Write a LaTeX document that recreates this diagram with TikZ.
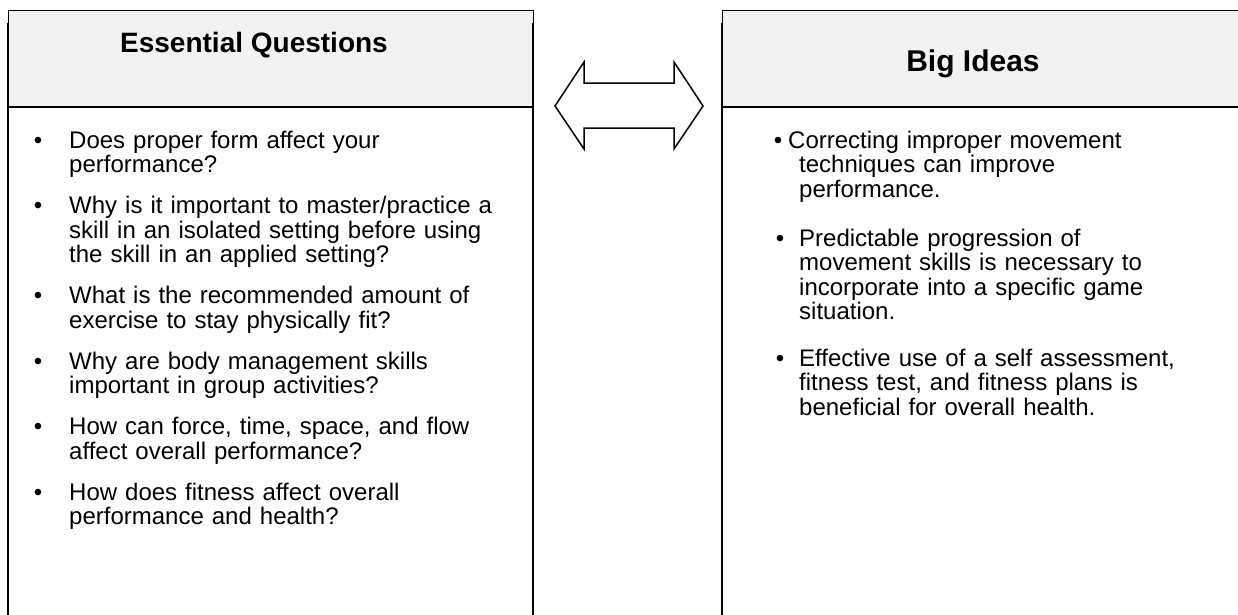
\documentclass[tikz,border=0pt]{standalone}
\usepackage{fontspec}
\setmainfont{Liberation Sans}
\definecolor{headgray}{HTML}{F2F2F2}
\begin{document}
\begin{tikzpicture}[x=1pt,y=-1pt,
  thinrule/.style={line width=0.9pt},
  thickrule/.style={line width=2pt},
  boxtitle/.style={font=\fontsize{28}{32}\selectfont\bfseries, anchor=base, inner sep=0pt},
  itemtext/.style={font=\fontsize{24}{24.5}\selectfont, align=left, text width=470pt, anchor=base west, inner sep=0pt},
  dotmark/.style={font=\fontsize{24}{24.5}\selectfont, anchor=base, inner sep=0pt},
  blockarrow/.style={draw, line width=1.5pt, fill=white, line join=miter}]
\useasboundingbox (0,0) rectangle (1238,614);
% left box
\fill[headgray] (8,10) rectangle (533,107);
\draw[thinrule] (8,10) -- (533,10);
\draw[thinrule] (8,10) -- (8,23);
\draw[thinrule] (533,10) -- (533,23);
\draw[thickrule] (8,23) -- (8,620);
\draw[thickrule] (533,23) -- (533,620);
\draw[thickrule] (7,107) -- (534,107);
% right box
\fill[headgray] (722,10) rectangle (1240,107);
\draw[thinrule] (722,10) -- (1240,10);
\draw[thinrule] (722,10) -- (722,23);
\draw[thickrule] (722,23) -- (722,620);
\draw[thickrule] (721,107) -- (1240,107);
% titles
\node[boxtitle] (eqtitle) at (254,52) {Essential Questions};
\node[boxtitle, font=\fontsize{30}{34}\selectfont\bfseries] (bititle) at (973,71) {Big Ideas};
% double arrow
\draw[blockarrow] (555,106) -- (584,62) -- (584,83) -- (674,83) -- (674,62) -- (703,106)
  -- (674,149) -- (674,128) -- (584,128) -- (584,149) -- cycle;
% left items
\node[dotmark] (lb1) at (38,148) {•};
\node[itemtext] (lq1) at (69,148) {Does proper form affect your\\performance?};
\node[dotmark] (lb2) at (38,213.5) {•};
\node[itemtext] (lq2) at (69,213.5) {Why is it important to master/practice a\\skill in an isolated setting before using\\the skill in an applied setting?};
\node[dotmark] (lb3) at (38,303.5) {•};
\node[itemtext] (lq3) at (69,303.5) {What is the recommended amount of\\exercise to stay physically fit?};
\node[dotmark] (lb4) at (38,369) {•};
\node[itemtext] (lq4) at (69,369) {Why are body management skills\\important in group activities?};
\node[dotmark] (lb5) at (38,434.5) {•};
\node[itemtext] (lq5) at (69,434.5) {How can force, time, space, and flow\\affect overall performance?};
\node[dotmark] (lb6) at (38,500) {•};
\node[itemtext] (lq6) at (69,500) {How does fitness affect overall\\performance and health?};
% right items
\node[dotmark] (rb1) at (778,148) {•};
\node[itemtext] (ri1) at (799,148) {\hspace*{-11pt}Correcting improper movement\\techniques can improve\\performance.};
\node[dotmark] (rb2) at (780,246) {•};
\node[itemtext] (ri2) at (799,246) {Predictable progression of\\movement skills is necessary to\\incorporate into a specific game\\situation.};
\node[dotmark] (rb3) at (780,366) {•};
\node[itemtext] (ri3) at (799,366) {Effective use of a self assessment,\\fitness test, and fitness plans is\\beneficial for overall health.};
\end{tikzpicture}
\end{document}
